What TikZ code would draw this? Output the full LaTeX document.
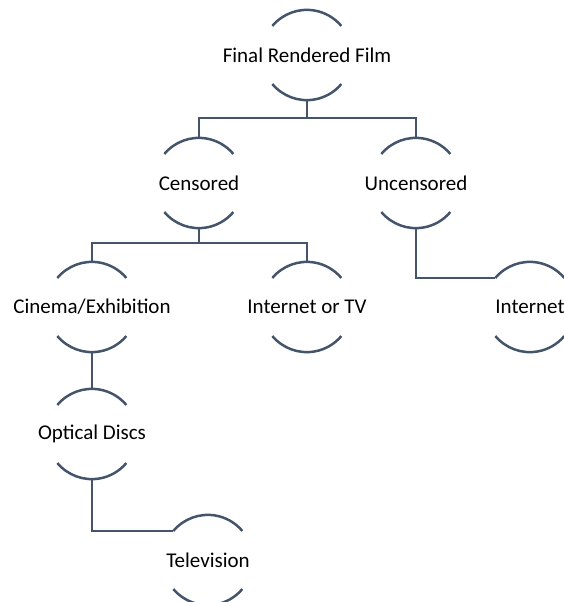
\documentclass[tikz,border=0pt]{standalone}
\usepackage{fontspec}
\setmainfont{Carlito}
\definecolor{linecol}{HTML}{44546A}
\newcommand{\lbl}[1]{\makebox[0pt]{#1}}

\begin{document}
\begin{tikzpicture}[
	  x=1pt, y=-1pt,
	  unit/.style={circle, minimum size=90pt, inner sep=0pt, font=\fontsize{21}{25}\selectfont},
	  rim/.style={draw=linecol, line width=2.5pt},
	  link/.style={draw=linecol, line width=2.5pt}]
	  \useasboundingbox (0,0) rectangle (563,602);
	  \node[unit] (film) at (307,55) {\lbl{Final Rendered Film}};
	  \node[unit] (cens) at (199,183) {\lbl{Censored}};
	  \node[unit] (uncens) at (416,183) {\lbl{Uncensored}};
	  \node[unit] (cinema) at (92,307) {\lbl{Cinema/Exhibition}};
	  \node[unit] (webtv) at (307,307) {\lbl{Internet or TV}};
	  \node[unit] (web) at (530,307) {\lbl{Internet}};
	  \node[unit] (disc) at (92,434) {\lbl{Optical Discs}};
	  \node[unit] (tv) at (208,560) {\lbl{Television}};
	  \foreach \n in {film,cens,uncens,cinema,webtv,web,disc,tv} {
	    \draw[rim] (\n.140) arc[start angle=140, end angle=40, radius=45pt];
	    \draw[rim] (\n.220) arc[start angle=220, end angle=320, radius=45pt];
	  }
	  \draw[link] (film.south) -- ++(0,18) -| (cens.north);
	  \draw[link] (film.south) -- ++(0,18) -| (uncens.north);
	  \draw[link] (cens.south) -- ++(0,15) -| (cinema.north);
	  \draw[link] (cens.south) -- ++(0,15) -| (webtv.north);
	  \draw[link] (uncens.south) |- (web.140);
	  \draw[link] (cinema.south) -- (disc.north);
	  \draw[link] (disc.south) |- (tv.140);
	\end{tikzpicture}
\end{document}
